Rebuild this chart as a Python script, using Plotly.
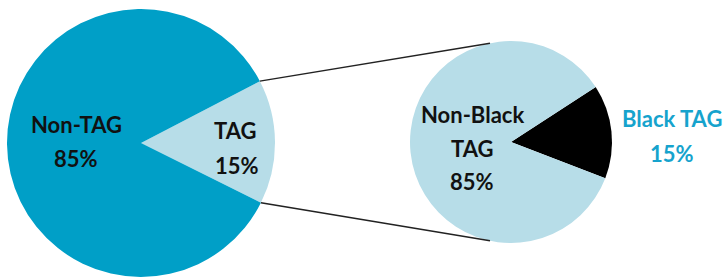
import math
import plotly.graph_objects as go

W, H = 728, 279

# ---- data ----
outer_labels = ["TAG", "Non-TAG"]
outer_values = [15, 85]
inner_labels = ["Black TAG", "Non-Black TAG"]
inner_values = [15, 85]

DARK = "#009fc7"
LIGHT = "#b7dde8"
BLACK = "#000000"
LABEL_BLUE = "#16a3cd"
FONT = "Lato"

def px(x):
    return x / W

def py(y):
    return 1 - y / H

# pie geometry (pixels)
L_C, L_R = (141, 143), 134
R_C, R_R = (511, 142), 101
L_ROT = 62.5
R_ROT = 57

def dom(c, r):
    return dict(x=[px(c[0] - r), px(c[0] + r)], y=[py(c[1] + r), py(c[1] - r)])

fig = go.Figure()
fig.add_trace(go.Pie(
    labels=outer_labels, values=outer_values, sort=False, direction="clockwise",
    rotation=L_ROT, marker=dict(colors=[LIGHT, DARK], line=dict(width=0)),
    textinfo="none", hoverinfo="label+percent", domain=dom(L_C, L_R), showlegend=False,
))
fig.add_trace(go.Pie(
    labels=inner_labels, values=inner_values, sort=False, direction="clockwise",
    rotation=R_ROT, marker=dict(colors=[BLACK, LIGHT], line=dict(width=0)),
    textinfo="none", hoverinfo="label+percent", domain=dom(R_C, R_R), showlegend=False,
))

# connector lines from the TAG slice edges to the zoomed pie
def on_circle(c, r, deg):
    a = math.radians(deg)
    return c[0] + r * math.sin(a), c[1] - r * math.cos(a)

tag_span = 360 * outer_values[0] / sum(outer_values)
p1 = on_circle(L_C, L_R, L_ROT)
p2 = on_circle(L_C, L_R, L_ROT + tag_span)
q1 = on_circle(R_C, R_R, -12)
q2 = on_circle(R_C, R_R, 192)
for a, b in [(p1, q1), (p2, q2)]:
    fig.add_shape(type="line", xref="paper", yref="paper",
                  x0=px(a[0]), y0=py(a[1]), x1=px(b[0]), y1=py(b[1]),
                  line=dict(color="#222222", width=1.5))

def pct(v, vals):
    return f"{round(100 * v / sum(vals))}%"

def lab(x, y, text, color="#111111"):
    fig.add_annotation(x=px(x), y=py(y), xref="paper", yref="paper", text=f"<b>{text}</b>",
                       showarrow=False, font=dict(family=FONT, size=22, color=color),
                       xanchor="center", yanchor="middle")

lab(76, 124, "Non-TAG")
lab(76, 158, pct(outer_values[1], outer_values))
lab(235, 130, "TAG")
lab(237, 165, pct(outer_values[0], outer_values))
lab(472, 114, "Non-Black")
lab(472, 148, "TAG")
lab(472, 181, pct(inner_values[1], inner_values))
lab(672, 118, inner_labels[0], LABEL_BLUE)
lab(672, 153, pct(inner_values[0], inner_values), LABEL_BLUE)

fig.update_layout(width=W, height=H, margin=dict(l=0, r=0, t=0, b=0),
                  paper_bgcolor="white", plot_bgcolor="white")
fig.write_html("out.html", config={"displayModeBar": False},
               post_script="document.body.style.margin='0';")
